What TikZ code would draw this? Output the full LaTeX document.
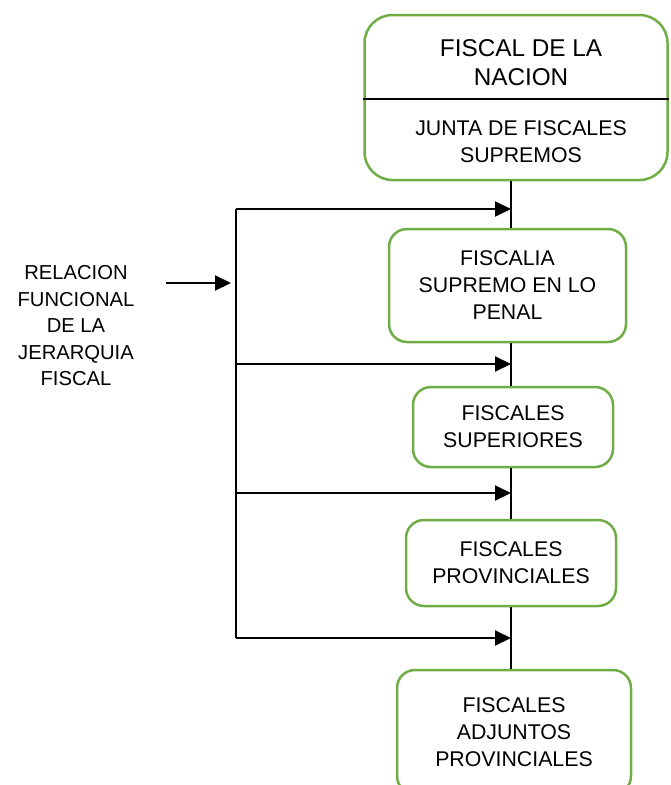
\documentclass[tikz,border=0pt]{standalone}
\usepackage{fontspec}
\setmainfont{Liberation Sans}
\usetikzlibrary{arrows.meta}
\definecolor{boxgreen}{HTML}{70AD47}
\begin{document}
\begin{tikzpicture}[x=1pt,y=-1pt,
  box/.style={draw=boxgreen, line width=2.5pt, rounded corners=18pt, fill=white,
    inner sep=0pt, align=center, font=\fontsize{21.3}{27}\selectfont},
  conn/.style={line width=2.1pt, black},
  arr/.style={line width=2.1pt, black, -{Triangle[length=16pt,width=15pt]}}]
\useasboundingbox (0,0) rectangle (670,785);
\clip (0,0) rectangle (670,785);
% spine reference
\coordinate (sp) at (511,0);
% boxes
\node[box, rounded corners=28pt, minimum width=303pt, minimum height=165pt] (top) at (516,97.5) {};
\node[font=\fontsize{24.3}{29}\selectfont, align=center] (toptxt) at (521,63) {FISCAL DE LA\\NACION};
\node[font=\fontsize{21.3}{27}\selectfont, align=center] (junta) at (521,141.5) {JUNTA DE FISCALES\\SUPREMOS};
\draw[line width=1.1pt] (top.west |- 0,99) -- (top.east |- 0,99);
\node[box, minimum width=237pt, minimum height=113pt] (b2) at (507.5,285.5) {FISCALIA\\SUPREMO EN LO\\PENAL};
\node[box, minimum width=200pt, minimum height=80pt] (b3) at (513,427) {FISCALES\\SUPERIORES};
\node[box, minimum width=210pt, minimum height=86pt] (b4) at (511,563) {FISCALES\\PROVINCIALES};
\node[box, minimum width=234pt, minimum height=124pt] (b5) at (514,732) {FISCALES\\ADJUNTOS\\PROVINCIALES};
% spine segments
\draw[conn] (top.south -| sp) -- (b2.north -| sp);
\draw[conn] (b2.south -| sp) -- (b3.north -| sp);
\draw[conn] (b3.south -| sp) -- (b4.north -| sp);
\draw[conn] (b4.south -| sp) -- (b5.north -| sp);
% left bus
\coordinate (l1) at (236,209);
\coordinate (l2) at (236,364);
\coordinate (l3) at (236,493);
\coordinate (l4) at (236,638);
\draw[conn] (l1) -- (l4);
\draw[arr] (l1) -- (l1 -| sp);
\draw[arr] (l2) -- (l2 -| sp);
\draw[arr] (l3) -- (l3 -| sp);
\draw[arr] (l4) -- (l4 -| sp);
% label and input arrow
\node[font=\fontsize{20.2}{26.5}\selectfont, align=center] (rel) at (76,326) {RELACION\\FUNCIONAL\\DE LA\\JERARQUIA\\FISCAL};
\coordinate (in1) at (166,283);
\coordinate (in2) at (231,283);
\draw[arr] (in1) -- (in2);
\end{tikzpicture}
\end{document}
